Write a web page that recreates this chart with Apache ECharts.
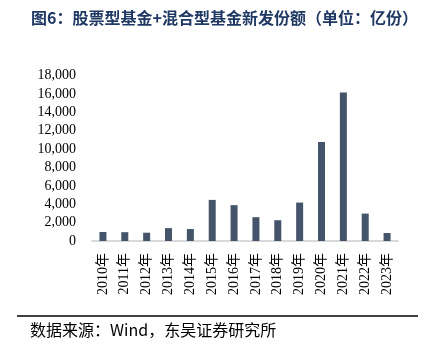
<!DOCTYPE html>
<html>
<head>
<meta charset="utf-8">
<script src="https://cdn.jsdelivr.net/npm/echarts@6/dist/echarts.min.js"></script>
<style>
  html, body { margin: 0; padding: 0; background: #fff; }
  #chart { width: 424px; height: 354px; }
</style>
</head>
<body>
<div id="chart"></div>
<script>
var years = ['2010年', '2011年', '2012年', '2013年', '2014年', '2015年', '2016年',
             '2017年', '2018年', '2019年', '2020年', '2021年', '2022年', '2023年'];
// 新发份额（亿份）
var issued = [980, 960, 900, 1400, 1300, 4470, 3900, 2590, 2260, 4180, 10770, 16150, 2980, 870];

var serif = '"Liberation Serif", "Noto Sans CJK SC", serif';

var myChart = echarts.init(document.getElementById('chart'));
var option = {
  backgroundColor: '#fff',
  title: [{
    text: '图6：股票型基金+混合型基金新发份额（单位：亿份）',
    left: 26,
    top: 5,
    textStyle: { fontSize: 16, fontWeight: 'bold', color: '#1f3864', fontFamily: '"Noto Sans CJK SC", sans-serif' }
  }, {
    text: '数据来源：Wind，东吴证券研究所',
    left: 25,
    top: 317,
    textStyle: { fontSize: 16, fontWeight: 'normal', color: '#000', fontFamily: '"Noto Sans CJK SC", serif' }
  }],
  graphic: [{
    type: 'line',
    shape: { x1: 17, y1: 316, x2: 418, y2: 316 },
    style: { stroke: '#000', lineWidth: 1.5 }
  }],
  grid: { left: 92, right: 26, top: 75.5, bottom: 113 },
  xAxis: {
    type: 'category',
    data: years,
    axisLine: { lineStyle: { color: '#d9d9d9', width: 2 } },
    axisTick: { show: false },
    axisLabel: { rotate: 90, interval: 0, margin: 12, fontSize: 14, color: '#000', fontFamily: serif }
  },
  yAxis: {
    type: 'value',
    min: 0,
    max: 18000,
    interval: 2000,
    splitLine: { show: false },
    axisLine: { show: false },
    axisTick: { show: false },
    axisLabel: {
      margin: 16,
      fontSize: 14,
      color: '#000',
      fontFamily: serif,
      formatter: function (v) { return v.toLocaleString('en-US'); }
    }
  },
  series: [{
    name: '新发份额',
    type: 'bar',
    barWidth: 7,
    itemStyle: { color: '#44546a' },
    data: issued
  }]
};
myChart.setOption(option);
</script>
</body>
</html>
